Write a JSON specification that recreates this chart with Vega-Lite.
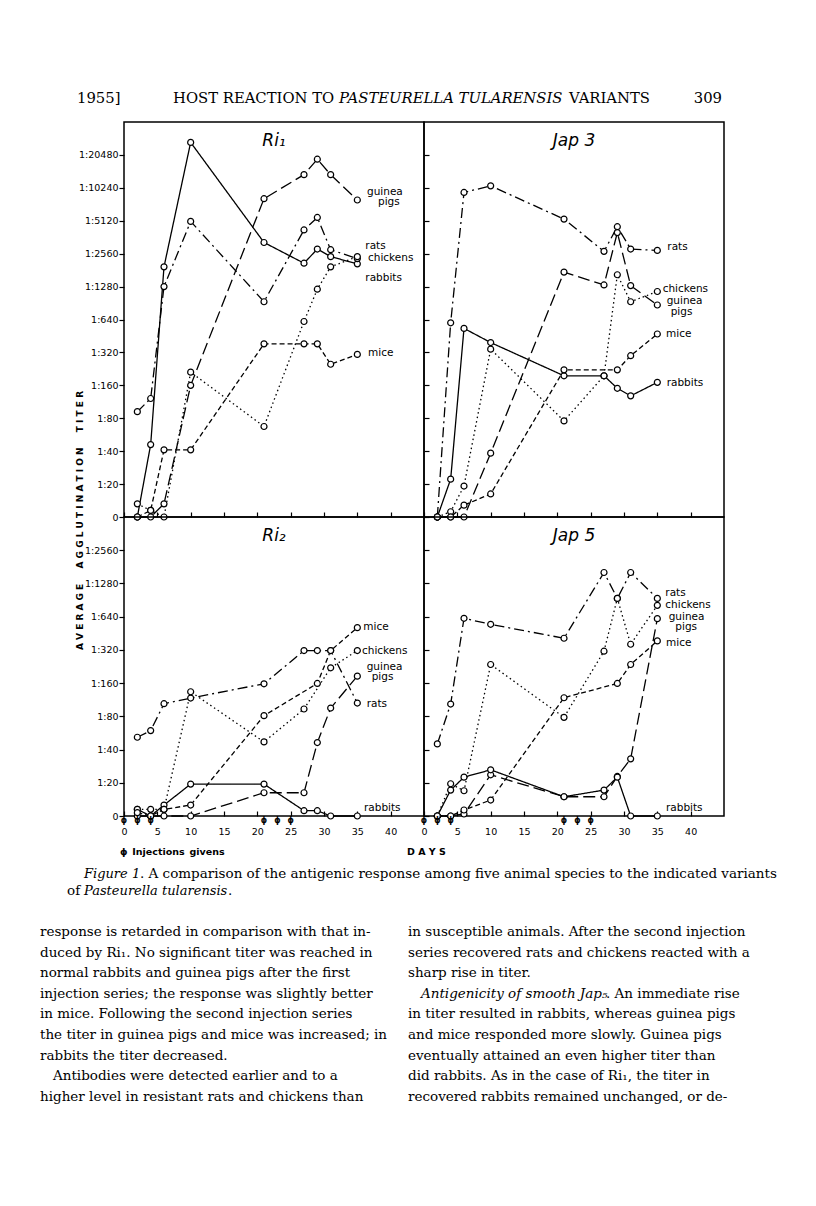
{
  "$schema": "https://vega.github.io/schema/vega-lite/v6.json",
  "background": "white",
  "padding": 0,
  "columns": 3,
  "spacing": 0,
  "bounds": "flush",
  "align": "each",
  "config": {
    "view": {"stroke": "black", "strokeWidth": 1.5},
    "font": "DejaVu Sans",
    "axis": {"grid": false, "domain": false, "labelColor": "black", "tickColor": "black", "tickWidth": 1.2, "labelFont": "DejaVu Sans", "labelFontSize": 9.5, "labelFlush": false, "labelOverlap": false},
    "title": {"font": "DejaVu Sans", "fontSize": 17, "fontStyle": "italic", "fontWeight": "normal", "anchor": "middle", "offset": -28, "color": "black"}
  },
  "datasets": {
    "series": [
      {"panel":"Ri1","species":"rabbits","day":2,"step":0},{"panel":"Ri1","species":"rabbits","day":4,"step":2.2},{"panel":"Ri1","species":"rabbits","day":6,"step":7.6},{"panel":"Ri1","species":"rabbits","day":10,"step":11.38},{"panel":"Ri1","species":"rabbits","day":21,"step":8.34},{"panel":"Ri1","species":"rabbits","day":27,"step":7.71},{"panel":"Ri1","species":"rabbits","day":29,"step":8.14},{"panel":"Ri1","species":"rabbits","day":31,"step":7.91},{"panel":"Ri1","species":"rabbits","day":35,"step":7.69},
      {"panel":"Ri1","species":"guinea pigs","day":2,"step":0},{"panel":"Ri1","species":"guinea pigs","day":4,"step":0},{"panel":"Ri1","species":"guinea pigs","day":6,"step":0.4},{"panel":"Ri1","species":"guinea pigs","day":10,"step":4.0},{"panel":"Ri1","species":"guinea pigs","day":21,"step":9.67},{"panel":"Ri1","species":"guinea pigs","day":27,"step":10.4},{"panel":"Ri1","species":"guinea pigs","day":29,"step":10.87},{"panel":"Ri1","species":"guinea pigs","day":31,"step":10.4},{"panel":"Ri1","species":"guinea pigs","day":35,"step":9.63},
      {"panel":"Ri1","species":"rats","day":2,"step":3.2},{"panel":"Ri1","species":"rats","day":4,"step":3.6},{"panel":"Ri1","species":"rats","day":6,"step":7.0},{"panel":"Ri1","species":"rats","day":10,"step":8.98},{"panel":"Ri1","species":"rats","day":21,"step":6.54},{"panel":"Ri1","species":"rats","day":27,"step":8.72},{"panel":"Ri1","species":"rats","day":29,"step":9.1},{"panel":"Ri1","species":"rats","day":31,"step":8.12},{"panel":"Ri1","species":"rats","day":35,"step":7.85},
      {"panel":"Ri1","species":"chickens","day":2,"step":0.4},{"panel":"Ri1","species":"chickens","day":4,"step":0.2},{"panel":"Ri1","species":"chickens","day":6,"step":0},{"panel":"Ri1","species":"chickens","day":10,"step":4.4},{"panel":"Ri1","species":"chickens","day":21,"step":2.75},{"panel":"Ri1","species":"chickens","day":27,"step":5.94},{"panel":"Ri1","species":"chickens","day":29,"step":6.92},{"panel":"Ri1","species":"chickens","day":31,"step":7.6},{"panel":"Ri1","species":"chickens","day":35,"step":7.91},
      {"panel":"Ri1","species":"mice","day":2,"step":0},{"panel":"Ri1","species":"mice","day":4,"step":0.2},{"panel":"Ri1","species":"mice","day":6,"step":2.04},{"panel":"Ri1","species":"mice","day":10,"step":2.04},{"panel":"Ri1","species":"mice","day":21,"step":5.26},{"panel":"Ri1","species":"mice","day":27,"step":5.26},{"panel":"Ri1","species":"mice","day":29,"step":5.26},{"panel":"Ri1","species":"mice","day":31,"step":4.64},{"panel":"Ri1","species":"mice","day":35,"step":4.94},

      {"panel":"Jap3","species":"rats","day":2,"step":0},{"panel":"Jap3","species":"rats","day":4,"step":5.9},{"panel":"Jap3","species":"rats","day":6,"step":9.86},{"panel":"Jap3","species":"rats","day":10,"step":10.06},{"panel":"Jap3","species":"rats","day":21,"step":9.05},{"panel":"Jap3","species":"rats","day":27,"step":8.07},{"panel":"Jap3","species":"rats","day":29,"step":8.82},{"panel":"Jap3","species":"rats","day":31,"step":8.14},{"panel":"Jap3","species":"rats","day":35,"step":8.1},
      {"panel":"Jap3","species":"rabbits","day":2,"step":0},{"panel":"Jap3","species":"rabbits","day":4,"step":1.15},{"panel":"Jap3","species":"rabbits","day":6,"step":5.73},{"panel":"Jap3","species":"rabbits","day":10,"step":5.3},{"panel":"Jap3","species":"rabbits","day":21,"step":4.29},{"panel":"Jap3","species":"rabbits","day":27,"step":4.29},{"panel":"Jap3","species":"rabbits","day":29,"step":3.91},{"panel":"Jap3","species":"rabbits","day":31,"step":3.68},{"panel":"Jap3","species":"rabbits","day":35,"step":4.09},
      {"panel":"Jap3","species":"chickens","day":2,"step":0},{"panel":"Jap3","species":"chickens","day":4,"step":0.16},{"panel":"Jap3","species":"chickens","day":6,"step":0.94},{"panel":"Jap3","species":"chickens","day":10,"step":5.1},{"panel":"Jap3","species":"chickens","day":21,"step":2.92},{"panel":"Jap3","species":"chickens","day":27,"step":4.29},{"panel":"Jap3","species":"chickens","day":29,"step":7.36},{"panel":"Jap3","species":"chickens","day":31,"step":6.54},{"panel":"Jap3","species":"chickens","day":35,"step":6.85},
      {"panel":"Jap3","species":"guinea pigs","day":2,"step":0},{"panel":"Jap3","species":"guinea pigs","day":4,"step":0},{"panel":"Jap3","species":"guinea pigs","day":6,"step":0},{"panel":"Jap3","species":"guinea pigs","day":10,"step":1.94},{"panel":"Jap3","species":"guinea pigs","day":21,"step":7.44},{"panel":"Jap3","species":"guinea pigs","day":27,"step":7.05},{"panel":"Jap3","species":"guinea pigs","day":29,"step":8.64},{"panel":"Jap3","species":"guinea pigs","day":31,"step":7.03},{"panel":"Jap3","species":"guinea pigs","day":35,"step":6.44},
      {"panel":"Jap3","species":"mice","day":2,"step":0},{"panel":"Jap3","species":"mice","day":4,"step":0},{"panel":"Jap3","species":"mice","day":6,"step":0.36},{"panel":"Jap3","species":"mice","day":10,"step":0.7},{"panel":"Jap3","species":"mice","day":21,"step":4.47},{"panel":"Jap3","species":"mice","day":29,"step":4.47},{"panel":"Jap3","species":"mice","day":31,"step":4.9},{"panel":"Jap3","species":"mice","day":35,"step":5.56},

      {"panel":"Ri2","species":"rabbits","day":2,"step":0.2},{"panel":"Ri2","species":"rabbits","day":4,"step":0},{"panel":"Ri2","species":"rabbits","day":6,"step":0.33},{"panel":"Ri2","species":"rabbits","day":10,"step":0.96},{"panel":"Ri2","species":"rabbits","day":21,"step":0.96},{"panel":"Ri2","species":"rabbits","day":27,"step":0.16},{"panel":"Ri2","species":"rabbits","day":29,"step":0.16},{"panel":"Ri2","species":"rabbits","day":31,"step":0},{"panel":"Ri2","species":"rabbits","day":35,"step":0},
      {"panel":"Ri2","species":"guinea pigs","day":2,"step":0},{"panel":"Ri2","species":"guinea pigs","day":4,"step":0},{"panel":"Ri2","species":"guinea pigs","day":6,"step":0},{"panel":"Ri2","species":"guinea pigs","day":10,"step":0},{"panel":"Ri2","species":"guinea pigs","day":21,"step":0.7},{"panel":"Ri2","species":"guinea pigs","day":27,"step":0.7},{"panel":"Ri2","species":"guinea pigs","day":29,"step":2.21},{"panel":"Ri2","species":"guinea pigs","day":31,"step":3.25},{"panel":"Ri2","species":"guinea pigs","day":35,"step":4.21},
      {"panel":"Ri2","species":"rats","day":2,"step":2.37},{"panel":"Ri2","species":"rats","day":4,"step":2.57},{"panel":"Ri2","species":"rats","day":6,"step":3.38},{"panel":"Ri2","species":"rats","day":10,"step":3.55},{"panel":"Ri2","species":"rats","day":21,"step":3.98},{"panel":"Ri2","species":"rats","day":27,"step":4.98},{"panel":"Ri2","species":"rats","day":29,"step":4.98},{"panel":"Ri2","species":"rats","day":31,"step":4.98},{"panel":"Ri2","species":"rats","day":35,"step":3.4},
      {"panel":"Ri2","species":"chickens","day":2,"step":0.2},{"panel":"Ri2","species":"chickens","day":4,"step":0.2},{"panel":"Ri2","species":"chickens","day":6,"step":0.2},{"panel":"Ri2","species":"chickens","day":10,"step":3.74},{"panel":"Ri2","species":"chickens","day":21,"step":2.23},{"panel":"Ri2","species":"chickens","day":27,"step":3.22},{"panel":"Ri2","species":"chickens","day":31,"step":4.46},{"panel":"Ri2","species":"chickens","day":35,"step":4.98},
      {"panel":"Ri2","species":"mice","day":2,"step":0.1},{"panel":"Ri2","species":"mice","day":4,"step":0},{"panel":"Ri2","species":"mice","day":6,"step":0.2},{"panel":"Ri2","species":"mice","day":10,"step":0.33},{"panel":"Ri2","species":"mice","day":21,"step":3.02},{"panel":"Ri2","species":"mice","day":29,"step":3.99},{"panel":"Ri2","species":"mice","day":31,"step":4.98},{"panel":"Ri2","species":"mice","day":35,"step":5.67},

      {"panel":"Jap5","species":"rats","day":2,"step":2.17},{"panel":"Jap5","species":"rats","day":4,"step":3.37},{"panel":"Jap5","species":"rats","day":6,"step":5.95},{"panel":"Jap5","species":"rats","day":10,"step":5.77},{"panel":"Jap5","species":"rats","day":21,"step":5.35},{"panel":"Jap5","species":"rats","day":27,"step":7.33},{"panel":"Jap5","species":"rats","day":29,"step":6.55},{"panel":"Jap5","species":"rats","day":31,"step":7.33},{"panel":"Jap5","species":"rats","day":35,"step":6.55},
      {"panel":"Jap5","species":"chickens","day":2,"step":0},{"panel":"Jap5","species":"chickens","day":4,"step":0.97},{"panel":"Jap5","species":"chickens","day":6,"step":0.76},{"panel":"Jap5","species":"chickens","day":10,"step":4.56},{"panel":"Jap5","species":"chickens","day":21,"step":2.97},{"panel":"Jap5","species":"chickens","day":27,"step":4.96},{"panel":"Jap5","species":"chickens","day":29,"step":6.55},{"panel":"Jap5","species":"chickens","day":31,"step":5.17},{"panel":"Jap5","species":"chickens","day":35,"step":6.34},
      {"panel":"Jap5","species":"guinea pigs","day":2,"step":0},{"panel":"Jap5","species":"guinea pigs","day":4,"step":0},{"panel":"Jap5","species":"guinea pigs","day":6,"step":0.06},{"panel":"Jap5","species":"guinea pigs","day":10,"step":1.24},{"panel":"Jap5","species":"guinea pigs","day":21,"step":0.58},{"panel":"Jap5","species":"guinea pigs","day":27,"step":0.58},{"panel":"Jap5","species":"guinea pigs","day":29,"step":1.19},{"panel":"Jap5","species":"guinea pigs","day":31,"step":1.72},{"panel":"Jap5","species":"guinea pigs","day":35,"step":5.94},
      {"panel":"Jap5","species":"mice","day":2,"step":0},{"panel":"Jap5","species":"mice","day":4,"step":0},{"panel":"Jap5","species":"mice","day":6,"step":0.18},{"panel":"Jap5","species":"mice","day":10,"step":0.48},{"panel":"Jap5","species":"mice","day":21,"step":3.56},{"panel":"Jap5","species":"mice","day":29,"step":3.99},{"panel":"Jap5","species":"mice","day":31,"step":4.56},{"panel":"Jap5","species":"mice","day":35,"step":5.27},
      {"panel":"Jap5","species":"rabbits","day":2,"step":0},{"panel":"Jap5","species":"rabbits","day":4,"step":0.78},{"panel":"Jap5","species":"rabbits","day":6,"step":1.17},{"panel":"Jap5","species":"rabbits","day":10,"step":1.39},{"panel":"Jap5","species":"rabbits","day":21,"step":0.58},{"panel":"Jap5","species":"rabbits","day":27,"step":0.78},{"panel":"Jap5","species":"rabbits","day":29,"step":1.17},{"panel":"Jap5","species":"rabbits","day":31,"step":0},{"panel":"Jap5","species":"rabbits","day":35,"step":0}
    ],
    "labels": [
      {"panel":"Ri1","text":"guinea","day":36.45,"step":9.88},{"panel":"Ri1","text":"pigs","day":38.1,"step":9.57},{"panel":"Ri1","text":"rats","day":36.2,"step":8.24},{"panel":"Ri1","text":"chickens","day":36.6,"step":7.86},{"panel":"Ri1","text":"rabbits","day":36.2,"step":7.25},{"panel":"Ri1","text":"mice","day":36.6,"step":4.97},
      {"panel":"Jap3","text":"rats","day":36.5,"step":8.2},{"panel":"Jap3","text":"chickens","day":35.8,"step":6.93},{"panel":"Jap3","text":"guinea","day":36.4,"step":6.56},{"panel":"Jap3","text":"pigs","day":37.0,"step":6.22},{"panel":"Jap3","text":"mice","day":36.3,"step":5.56},{"panel":"Jap3","text":"rabbits","day":36.4,"step":4.08},
      {"panel":"Ri2","text":"mice","day":35.9,"step":5.69},{"panel":"Ri2","text":"chickens","day":35.7,"step":4.96},{"panel":"Ri2","text":"guinea","day":36.4,"step":4.5},{"panel":"Ri2","text":"pigs","day":37.15,"step":4.17},{"panel":"Ri2","text":"rats","day":36.4,"step":3.37},{"panel":"Ri2","text":"rabbits","day":36.0,"step":0.23},
      {"panel":"Jap5","text":"rats","day":36.2,"step":6.72},{"panel":"Jap5","text":"chickens","day":36.2,"step":6.35},{"panel":"Jap5","text":"guinea","day":36.7,"step":5.99},{"panel":"Jap5","text":"pigs","day":37.7,"step":5.69},{"panel":"Jap5","text":"mice","day":36.3,"step":5.22},{"panel":"Jap5","text":"rabbits","day":36.3,"step":0.23}
    ],
    "injections": [{"day":0,"step":-0.15},{"day":2,"step":-0.15},{"day":4,"step":-0.15},{"day":21,"step":-0.15},{"day":23,"step":-0.15},{"day":25,"step":-0.15}]
  },
  "concat": [
    {
      "width": 124, "height": 122,
      "view": {"stroke": null},
      "encoding": {
        "x": {"field": "slot", "type": "quantitative", "scale": {"domain": [0,1,2,3,4], "range": [77,173,339,650,722], "nice": false, "zero": false}, "axis": null},
        "y": {"field": "line", "type": "quantitative", "scale": {"domain": [0,1], "range": [99,120], "nice": false, "zero": false}, "axis": null}
      },
      "layer": [
        {"data": {"values": [{"slot":0,"line":0,"text":"1955]"},{"slot":1,"line":0,"text":"HOST REACTION TO"}]},
         "mark": {"type": "text", "align": "left", "baseline": "middle", "font": "DejaVu Serif", "fontSize": 14.8, "color": "black"},
         "encoding": {"text": {"field": "text"}}},
        {"data": {"values": [{"slot":2,"line":0,"text":"PASTEURELLA TULARENSIS"}]},
         "mark": {"type": "text", "align": "left", "baseline": "middle", "font": "DejaVu Serif", "fontSize": 14.8, "fontStyle": "italic", "color": "black"},
         "encoding": {"text": {"field": "text"}}},
        {"data": {"values": [{"slot":3,"line":0,"text":"VARIANTS"},{"slot":4,"line":0,"text":"309"}]},
         "mark": {"type": "text", "align": "right", "baseline": "middle", "font": "DejaVu Serif", "fontSize": 14.8, "color": "black"},
         "encoding": {"text": {"field": "text"}}}
      ]
    },
    {"width": 300, "height": 122, "view": {"stroke": null}, "data": {"values": [{}]}, "mark": {"type": "text"}},
    {"width": 300, "height": 122, "view": {"stroke": null}, "data": {"values": [{}]}, "mark": {"type": "text"}},

    {"width": 124, "height": 395, "view": {"stroke": null}, "data": {"values": [{}]}, "mark": {"type": "text"}},
    {
      "width": 300, "height": 395,
      "title": {"text": "Ri₁"},
      "encoding": {
        "x": {"field": "day", "type": "quantitative", "scale": {"domain": [0,45], "nice": false, "zero": false}, "axis": {"values": [0,5,10,15,20,25,30,35,40], "labels": false, "tickSize": 5, "offset": -5, "title": null}},
        "y": {"field": "step", "type": "quantitative", "scale": {"domain": [0,12], "nice": false, "zero": false}, "axis": {"values": [0,1,2,3,4,5,6,7,8,9,10,11], "labelExpr": "datum.value == 0 ? '0' : '1:' + (20 * pow(2, datum.value - 1))", "tickSize": 5, "labelPadding": 1, "title": "A V E R A G E \u2003 A G G L U T I N A T I O N \u2003 T I T E R", "titleX": -45, "titleY": 398, "titleAngle": 270, "titleAlign": "center", "titleBaseline": "middle", "titleFont": "DejaVu Sans", "titleFontSize": 9, "titleFontWeight": "bold", "titleColor": "black"}}
      },
      "layer": [
        {"data": {"name": "series"}, "transform": [{"filter": "datum.panel === 'Ri1'"}], "mark": {"type": "line", "color": "black", "strokeWidth": 1.3},
         "encoding": {"strokeDash": {"field": "species", "type": "nominal", "scale": {"domain": ["rabbits","guinea pigs","rats","chickens","mice"], "range": [[1,0],[12,5],[10,4,2,4],[1.5,3],[5,3]]}, "legend": null}}},
        {"data": {"name": "series"}, "transform": [{"filter": "datum.panel === 'Ri1'"}], "mark": {"type": "point", "shape": "circle", "filled": true, "fill": "white", "stroke": "black", "strokeWidth": 1.2, "size": 36, "opacity": 1}},
        {"data": {"name": "labels"}, "transform": [{"filter": "datum.panel === 'Ri1'"}], "mark": {"type": "text", "align": "left", "baseline": "middle", "font": "DejaVu Sans", "fontSize": 10.5, "color": "black"}, "encoding": {"text": {"field": "text"}}}
      ]
    },
    {
      "width": 300, "height": 395,
      "title": {"text": "Jap 3"},
      "encoding": {
        "x": {"field": "day", "type": "quantitative", "scale": {"domain": [0,45], "nice": false, "zero": false}, "axis": {"values": [0,5,10,15,20,25,30,35,40], "labels": false, "tickSize": 5, "offset": -5, "title": null}},
        "y": {"field": "step", "type": "quantitative", "scale": {"domain": [0,12], "nice": false, "zero": false}, "axis": {"values": [0,1,2,3,4,5,6,7,8,9,10,11], "labels": false, "tickSize": 5, "offset": -5, "title": null}}
      },
      "layer": [
        {"data": {"name": "series"}, "transform": [{"filter": "datum.panel === 'Jap3'"}], "mark": {"type": "line", "color": "black", "strokeWidth": 1.3},
         "encoding": {"strokeDash": {"field": "species", "type": "nominal", "scale": {"domain": ["rabbits","guinea pigs","rats","chickens","mice"], "range": [[1,0],[12,5],[10,4,2,4],[1.5,3],[5,3]]}, "legend": null}}},
        {"data": {"name": "series"}, "transform": [{"filter": "datum.panel === 'Jap3'"}], "mark": {"type": "point", "shape": "circle", "filled": true, "fill": "white", "stroke": "black", "strokeWidth": 1.2, "size": 36, "opacity": 1}},
        {"data": {"name": "labels"}, "transform": [{"filter": "datum.panel === 'Jap3'"}], "mark": {"type": "text", "align": "left", "baseline": "middle", "font": "DejaVu Sans", "fontSize": 10.5, "color": "black"}, "encoding": {"text": {"field": "text"}}}
      ]
    },

    {"width": 124, "height": 299, "view": {"stroke": null}, "data": {"values": [{}]}, "mark": {"type": "text"}},
    {
      "width": 300, "height": 299,
      "title": {"text": "Ri₂"},
      "encoding": {
        "x": {"field": "day", "type": "quantitative", "scale": {"domain": [0,45], "nice": false, "zero": false}, "axis": {"values": [0,5,10,15,20,25,30,35,40], "tickSize": 5, "offset": -5, "labelPadding": 10, "title": null}},
        "y": {"field": "step", "type": "quantitative", "scale": {"domain": [0,9], "nice": false, "zero": false}, "axis": {"values": [0,1,2,3,4,5,6,7,8], "labelExpr": "datum.value == 0 ? '0' : '1:' + (20 * pow(2, datum.value - 1))", "tickSize": 5, "labelPadding": 1, "title": null}}
      },
      "layer": [
        {"data": {"name": "series"}, "transform": [{"filter": "datum.panel === 'Ri2'"}], "mark": {"type": "line", "color": "black", "strokeWidth": 1.3},
         "encoding": {"strokeDash": {"field": "species", "type": "nominal", "scale": {"domain": ["rabbits","guinea pigs","rats","chickens","mice"], "range": [[1,0],[12,5],[10,4,2,4],[1.5,3],[5,3]]}, "legend": null}}},
        {"data": {"name": "series"}, "transform": [{"filter": "datum.panel === 'Ri2'"}], "mark": {"type": "point", "shape": "circle", "filled": true, "fill": "white", "stroke": "black", "strokeWidth": 1.2, "size": 36, "opacity": 1}},
        {"data": {"name": "labels"}, "transform": [{"filter": "datum.panel === 'Ri2'"}], "mark": {"type": "text", "align": "left", "baseline": "middle", "font": "DejaVu Sans", "fontSize": 10.5, "color": "black"}, "encoding": {"text": {"field": "text"}}},
        {"data": {"name": "injections"}, "mark": {"type": "text", "align": "center", "baseline": "middle", "font": "DejaVu Sans", "fontSize": 8, "fontWeight": "bold", "color": "black"}, "encoding": {"text": {"value": "ϕ"}}}
      ]
    },
    {
      "width": 300, "height": 299,
      "title": {"text": "Jap 5"},
      "encoding": {
        "x": {"field": "day", "type": "quantitative", "scale": {"domain": [0,45], "nice": false, "zero": false}, "axis": {"values": [0,5,10,15,20,25,30,35,40], "tickSize": 5, "offset": -5, "labelPadding": 10, "title": null}},
        "y": {"field": "step", "type": "quantitative", "scale": {"domain": [0,9], "nice": false, "zero": false}, "axis": {"values": [0,1,2,3,4,5,6,7,8], "labels": false, "tickSize": 5, "offset": -5, "title": null}}
      },
      "layer": [
        {"data": {"name": "series"}, "transform": [{"filter": "datum.panel === 'Jap5'"}], "mark": {"type": "line", "color": "black", "strokeWidth": 1.3},
         "encoding": {"strokeDash": {"field": "species", "type": "nominal", "scale": {"domain": ["rabbits","guinea pigs","rats","chickens","mice"], "range": [[1,0],[12,5],[10,4,2,4],[1.5,3],[5,3]]}, "legend": null}}},
        {"data": {"name": "series"}, "transform": [{"filter": "datum.panel === 'Jap5'"}], "mark": {"type": "point", "shape": "circle", "filled": true, "fill": "white", "stroke": "black", "strokeWidth": 1.2, "size": 36, "opacity": 1}},
        {"data": {"name": "labels"}, "transform": [{"filter": "datum.panel === 'Jap5'"}], "mark": {"type": "text", "align": "left", "baseline": "middle", "font": "DejaVu Sans", "fontSize": 10.5, "color": "black"}, "encoding": {"text": {"field": "text"}}},
        {"data": {"name": "injections"}, "mark": {"type": "text", "align": "center", "baseline": "middle", "font": "DejaVu Sans", "fontSize": 8, "fontWeight": "bold", "color": "black"}, "encoding": {"text": {"value": "ϕ"}}}
      ]
    },

    {
      "width": 124, "height": 390,
      "view": {"stroke": null},
      "encoding": {
        "x": {"field": "slot", "type": "quantitative", "scale": {"domain": [0,1,2,3,4,5,6,7,8,9,10,11], "range": [40,53,408,421,67,84,140,84,228,606,120,407], "nice": false, "zero": false}, "axis": null},
        "y": {"field": "line", "type": "quantitative", "scale": {"domain": [0,1,2,3,11], "range": [36,58,75,116,280.8], "nice": false, "zero": false}, "axis": null}
      },
      "layer": [
        {"data": {"values": [
          {"slot":0,"line":3,"text":"response is retarded in comparison with that in-"},
          {"slot":0,"line":4,"text":"duced by Ri₁. No significant titer was reached in"},
          {"slot":0,"line":5,"text":"normal rabbits and guinea pigs after the first"},
          {"slot":0,"line":6,"text":"injection series; the response was slightly better"},
          {"slot":0,"line":7,"text":"in mice. Following the second injection series"},
          {"slot":0,"line":8,"text":"the titer in guinea pigs and mice was increased; in"},
          {"slot":0,"line":9,"text":"rabbits the titer decreased."},
          {"slot":1,"line":10,"text":"Antibodies were detected earlier and to a"},
          {"slot":0,"line":11,"text":"higher level in resistant rats and chickens than"},
          {"slot":2,"line":3,"text":"in susceptible animals. After the second injection"},
          {"slot":2,"line":4,"text":"series recovered rats and chickens reacted with a"},
          {"slot":2,"line":5,"text":"sharp rise in titer."},
          {"slot":9,"line":6,"text":". An immediate rise"},
          {"slot":2,"line":7,"text":"in titer resulted in rabbits, whereas guinea pigs"},
          {"slot":2,"line":8,"text":"and mice responded more slowly. Guinea pigs"},
          {"slot":2,"line":9,"text":"eventually attained an even higher titer than"},
          {"slot":2,"line":10,"text":"did rabbits. As in the case of Ri₁, the titer in"},
          {"slot":2,"line":11,"text":"recovered rabbits remained unchanged, or de-"}
        ]},
         "mark": {"type": "text", "align": "left", "baseline": "middle", "font": "DejaVu Serif", "fontSize": 13.5, "color": "black"},
         "encoding": {"text": {"field": "text"}}},
        {"data": {"values": [{"slot":3,"line":6,"text":"Antigenicity of smooth Jap₅"}]},
         "mark": {"type": "text", "align": "left", "baseline": "middle", "font": "DejaVu Serif", "fontSize": 13.5, "fontStyle": "italic", "color": "black"},
         "encoding": {"text": {"field": "text"}}},
        {"data": {"values": [
          {"slot":6,"line":1,"text":". A comparison of the antigenic response among five animal species to the indicated variants"},
          {"slot":4,"line":2,"text":"of"},
          {"slot":8,"line":2,"text":"."}
        ]},
         "mark": {"type": "text", "align": "left", "baseline": "middle", "font": "DejaVu Serif", "fontSize": 13.5, "color": "black"},
         "encoding": {"text": {"field": "text"}}},
        {"data": {"values": [
          {"slot":5,"line":1,"text":"Figure 1"},
          {"slot":7,"line":2,"text":"Pasteurella tularensis"}
        ]},
         "mark": {"type": "text", "align": "left", "baseline": "middle", "font": "DejaVu Serif", "fontSize": 13, "fontStyle": "italic", "color": "black"},
         "encoding": {"text": {"field": "text"}}},
        {"data": {"values": [
          {"slot":10,"line":0,"text":"ϕ\u2002Injections\u2002givens"},
          {"slot":11,"line":0,"text":"D A Y S"}
        ]},
         "mark": {"type": "text", "align": "left", "baseline": "middle", "font": "DejaVu Sans", "fontSize": 9.5, "fontWeight": "bold", "color": "black"},
         "encoding": {"text": {"field": "text"}}}
      ]
    },
    {"width": 300, "height": 390, "view": {"stroke": null}, "data": {"values": [{}]}, "mark": {"type": "text"}},
    {"width": 300, "height": 390, "view": {"stroke": null}, "data": {"values": [{}]}, "mark": {"type": "text"}}
  ]
}
